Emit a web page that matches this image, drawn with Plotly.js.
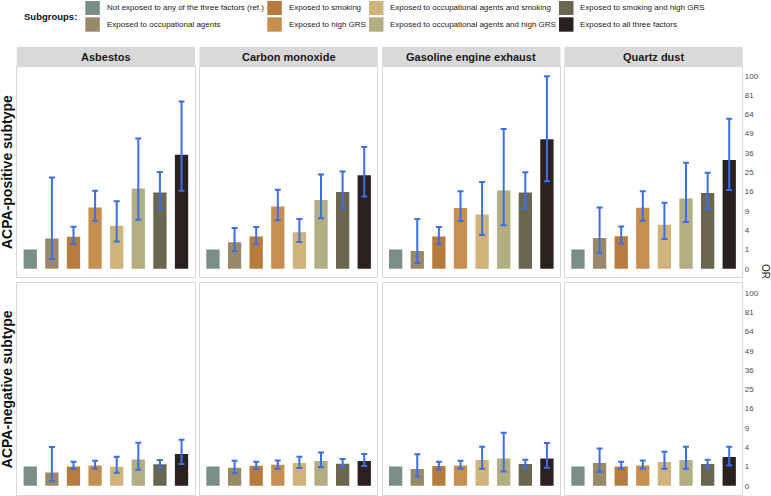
<!DOCTYPE html>
<html>
<head>
<meta charset="utf-8">
<script src="https://cdn.plot.ly/plotly-3.0.1.min.js"></script>
<style>html,body{margin:0;padding:0;background:#fff;}#chart{width:771px;height:496px;}</style>
</head>
<body>
<div id="chart"></div>
<script>
// ---------- data ----------
const subgroups = [
  'Not exposed to any of the three factors (ref.)',
  'Exposed to occupational agents',
  'Exposed to smoking',
  'Exposed to high GRS',
  'Exposed to occupational agents and smoking',
  'Exposed to occupational agents and high GRS',
  'Exposed to smoking and high GRS',
  'Exposed to all three factors'
];
const subgroupColors = ['#7b8f86', '#9a8967', '#b67b3d', '#c68f4f', '#cfb37a', '#b3ae82', '#6b6650', '#2a201e'];
const agents = ['Asbestos', 'Carbon monoxide', 'Gasoline engine exhaust', 'Quartz dust'];
const subtypes = ['ACPA-positive subtype', 'ACPA-negative subtype'];
const orTicks = [0, 1, 4, 9, 16, 25, 36, 49, 64, 81, 100];

// ACPA-positive subtype: odds ratio, lower and upper 95% CI
const posAsbestosOR = [1, 2.46, 2.75, 10.1, 4.96, 17.3, 15.6, 34.9];
const posAsbestosLo = [null, 0.25, 1.64, 6.2, 2.0, 6.45, 9.76, 16.3];
const posAsbestosHi = [null, 22.4, 4.7, 16.3, 12.2, 45.6, 25.1, 75.1];
const posCarbonOR = [1, 1.88, 2.78, 10.4, 3.58, 12.7, 15.8, 23.5];
const posCarbonLo = [null, 0.82, 1.61, 6.3, 1.93, 6.85, 9.9, 14.0];
const posCarbonHi = [null, 4.46, 4.69, 16.7, 6.66, 23.8, 25.4, 39.8];
const posGasolineOR = [1, 0.83, 2.78, 9.92, 7.9, 16.4, 15.6, 45.1];
const posGasolineLo = [null, 0.09, 1.61, 6.14, 3.07, 5.07, 9.74, 20.5];
const posGasolineHi = [null, 6.66, 4.69, 16.1, 20.2, 52.5, 25.0, 99.5];
const posQuartzOR = [1, 2.52, 2.81, 9.99, 5.2, 13.2, 15.4, 31.7];
const posQuartzLo = [null, 0.69, 1.68, 6.19, 2.36, 5.85, 9.66, 16.6];
const posQuartzHi = [null, 10.1, 4.81, 16.1, 11.7, 30.2, 24.7, 60.4];

// ACPA-negative subtype
const negAsbestosOR = [1, 0.48, 1.0, 1.11, 0.97, 1.87, 1.23, 2.7];
const negAsbestosLo = [null, 0.06, 0.75, 0.78, 0.46, 0.69, 0.84, 1.26];
const negAsbestosHi = [null, 4.03, 1.55, 1.68, 2.27, 4.98, 1.77, 5.7];
const negCarbonOR = [1, 0.87, 1.08, 1.19, 1.38, 1.64, 1.30, 1.64];
const negCarbonLo = [null, 0.43, 0.75, 0.78, 0.84, 0.91, 0.94, 1.04];
const negCarbonHi = [null, 1.68, 1.55, 1.73, 2.27, 2.99, 1.92, 2.70];
const negGasolineOR = [1, 0.75, 1.04, 1.11, 1.77, 2.01, 1.26, 2.01];
const negGasolineLo = [null, 0.23, 0.72, 0.78, 0.78, 0.55, 0.87, 0.87];
const negGasolineHi = [null, 2.65, 1.55, 1.68, 4.10, 7.57, 1.82, 4.90];
const negQuartzOR = [1, 1.38, 1.0, 1.11, 1.51, 1.77, 1.26, 2.21];
const negQuartzLo = [null, 0.50, 0.75, 0.78, 0.78, 0.78, 0.87, 1.11];
const negQuartzHi = [null, 3.75, 1.55, 1.73, 3.11, 4.10, 1.82, 4.10];

const panels = [
  [[posAsbestosOR, posAsbestosLo, posAsbestosHi], [posCarbonOR, posCarbonLo, posCarbonHi],
   [posGasolineOR, posGasolineLo, posGasolineHi], [posQuartzOR, posQuartzLo, posQuartzHi]],
  [[negAsbestosOR, negAsbestosLo, negAsbestosHi], [negCarbonOR, negCarbonLo, negCarbonHi],
   [negGasolineOR, negGasolineLo, negGasolineHi], [negQuartzOR, negQuartzLo, negQuartzHi]]
];

// ---------- layout geometry (pixels) ----------
const W = 771, H = 496;
const FONT = 'Liberation Sans, Arial, Helvetica, sans-serif';
const px = v => v / W;
const py = v => 1 - v / H;
const colX0 = [17.3, 200, 382.7, 565];
const colW = 177.2;
const rowY = [[66.7, 277.3], [283.3, 495]];
const rowRange = [[-0.446, 10.47], [-0.48, 10.5]];
const stripTop = 47.3;
const errColor = '#3d6ee6';
const sq = Math.sqrt;

const data = [];
const layout = {
  width: W, height: H,
  margin: {l: 0, r: 0, t: 0, b: 0},
  paper_bgcolor: '#fff', plot_bgcolor: '#fff',
  barmode: 'overlay',
  showlegend: false,
  font: {family: FONT, color: '#1a1a1a'},
  shapes: [], annotations: []
};

for (let r = 0; r < 2; r++) {
  for (let c = 0; c < 4; c++) {
    const idx = r * 4 + c + 1;
    const xa = 'x' + (idx === 1 ? '' : idx);
    const ya = 'y' + (idx === 1 ? '' : idx);
    const [ors, los, his] = panels[r][c];
    for (let k = 0; k < subgroups.length; k++) {
      const t = {
        type: 'bar',
        name: subgroups[k],
        x: [subgroups[k]],
        y: [sq(ors[k])],
        customdata: [[ors[k], los[k], his[k]]],
        xaxis: xa, yaxis: ya,
        width: 0.615,
        marker: {color: subgroupColors[k], line: {width: 0}},
        showlegend: false,
        hovertemplate: agents[c] + '<br>' + subgroups[k] + '<br>OR %{customdata[0]}<extra></extra>'
      };
      if (los[k] !== null && his[k] !== null) {
        t.error_y = {
          type: 'data', symmetric: false,
          array: [sq(his[k]) - sq(ors[k])],
          arrayminus: [sq(ors[k]) - sq(los[k])],
          color: errColor, thickness: 2, width: 3
        };
      }
      data.push(t);
    }
    layout['xaxis' + (idx === 1 ? '' : idx)] = {
      domain: [px(colX0[c]), px(colX0[c] + colW)],
      anchor: ya, type: 'category', categoryarray: subgroups, categoryorder: 'array',
      range: [-0.6, 7.6], showticklabels: false, ticks: '',
      showline: true, mirror: true, linecolor: '#d9d9d9', linewidth: 1,
      showgrid: false, zeroline: false, fixedrange: true
    };
    layout['yaxis' + (idx === 1 ? '' : idx)] = {
      domain: [py(rowY[r][1]), py(rowY[r][0])],
      anchor: xa, range: rowRange[r], side: 'right',
      tickvals: orTicks.map(sq), ticktext: orTicks.map(String),
      showticklabels: c === 3, ticks: '',
      tickfont: {size: 8, color: '#4d4d4d', family: FONT},
      showline: true, mirror: true, linecolor: '#d9d9d9', linewidth: 1,
      showgrid: false, zeroline: false, fixedrange: true
    };
    if (r === 0) {
      layout.shapes.push({type: 'rect', xref: 'paper', yref: 'paper',
        x0: px(colX0[c]), x1: px(colX0[c] + colW), y0: py(rowY[0][0]), y1: py(stripTop),
        fillcolor: '#d9d9d9', line: {width: 1, color: '#d9d9d9'}, layer: 'below'});
      layout.annotations.push({xref: 'paper', yref: 'paper',
        x: px(colX0[c] + colW / 2), y: py((stripTop + rowY[0][0]) / 2),
        xanchor: 'center', yanchor: 'middle', showarrow: false,
        text: '<b>' + agents[c] + '</b>', font: {size: 11, color: '#1a1a1a', family: FONT}});
    }
  }
  layout.annotations.push({xref: 'paper', yref: 'paper',
    x: px(7), y: py((rowY[r][0] + rowY[r][1]) / 2), xanchor: 'center', yanchor: 'middle',
    textangle: -90, showarrow: false, text: '<b>' + subtypes[r] + '</b>',
    font: {size: 14, color: '#111', family: FONT}});
}

// y axis title
layout.annotations.push({xref: 'paper', yref: 'paper', x: px(766), y: py(271),
  xanchor: 'center', yanchor: 'middle', textangle: 90, showarrow: false,
  text: 'OR', font: {size: 10, color: '#1a1a1a', family: FONT}});

// legend (drawn as swatches + labels)
layout.annotations.push({xref: 'paper', yref: 'paper', x: px(22), y: py(16.5),
  xanchor: 'left', yanchor: 'middle', showarrow: false,
  text: '<b>Subgroups:</b>', font: {size: 9.5, color: '#111', family: FONT}});
const legSwatchX = [85.3, 267.3, 369, 559];
const legTextX = [105, 286.5, 388.3, 578.3];
const legRowY = [[1, 15], [17.3, 31.7]];
for (let k = 0; k < subgroups.length; k++) {
  const col = Math.floor(k / 2), row = k % 2;
  layout.shapes.push({type: 'rect', xref: 'paper', yref: 'paper',
    x0: px(legSwatchX[col]), x1: px(legSwatchX[col] + 14.5),
    y0: py(legRowY[row][1]), y1: py(legRowY[row][0]),
    fillcolor: subgroupColors[k], line: {width: 0}});
  layout.annotations.push({xref: 'paper', yref: 'paper',
    x: px(legTextX[col]), y: py((legRowY[row][0] + legRowY[row][1]) / 2),
    xanchor: 'left', yanchor: 'middle', showarrow: false,
    text: subgroups[k], font: {size: 8, color: '#1a1a1a', family: FONT}});
}

Plotly.newPlot('chart', data, layout, {displayModeBar: false, staticPlot: true});
</script>
</body>
</html>
